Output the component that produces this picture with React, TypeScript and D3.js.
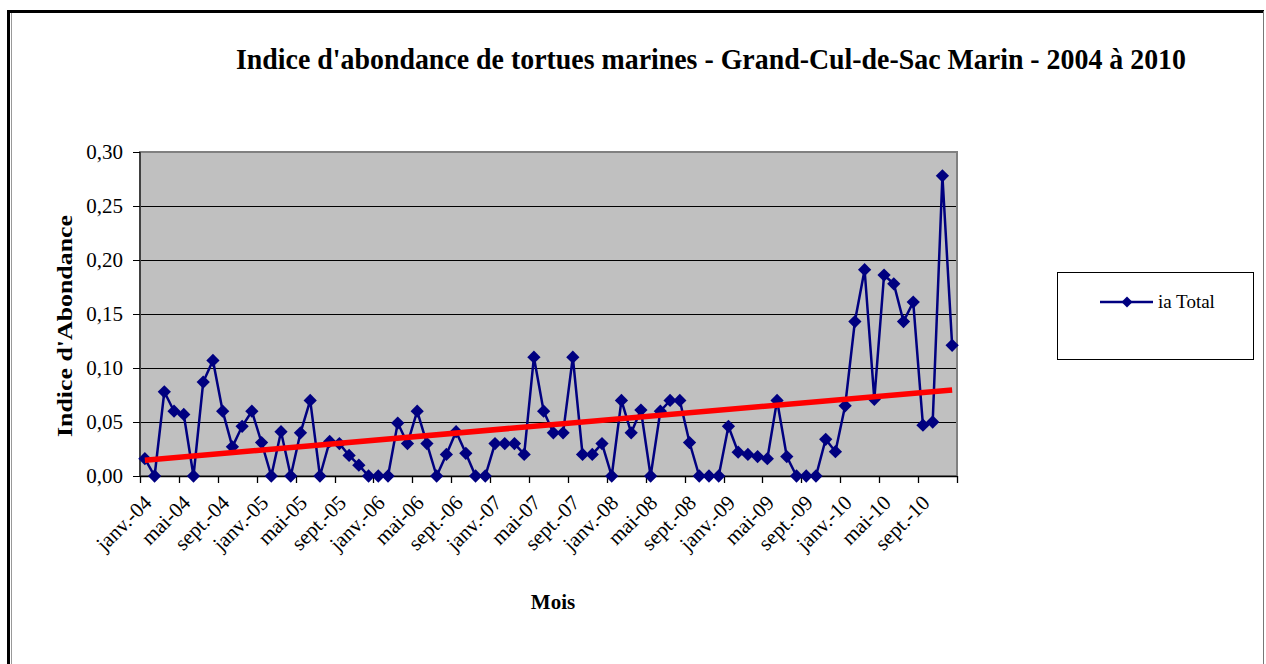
import React, { useEffect, useRef } from "react";
import * as d3 from "d3";

const years = ["04", "05", "06", "07", "08", "09", "10"];
const monthNames = ["janv.", "févr.", "mars", "avr.", "mai", "juin", "juil.", "août", "sept.", "oct.", "nov.", "déc."];

// ia Total, one array per year (janv. -> déc.)
const ia2004 = [0.016, 0, 0.078, 0.06, 0.057, 0, 0.087, 0.107, 0.06, 0.027, 0.046, 0.06];
const ia2005 = [0.031, 0, 0.041, 0, 0.04, 0.07, 0, 0.032, 0.03, 0.019, 0.01, 0];
const ia2006 = [0, 0, 0.049, 0.03, 0.06, 0.03, 0, 0.02, 0.041, 0.021, 0, 0];
const ia2007 = [0.03, 0.03, 0.03, 0.02, 0.11, 0.06, 0.04, 0.04, 0.11, 0.02, 0.02, 0.03];
const ia2008 = [0, 0.07, 0.04, 0.061, 0, 0.06, 0.07, 0.07, 0.031, 0, 0, 0];
const ia2009 = [0.046, 0.022, 0.02, 0.018, 0.016, 0.07, 0.018, 0, 0, 0, 0.034, 0.0225];
const ia2010 = [0.065, 0.143, 0.191, 0.071, 0.186, 0.178, 0.143, 0.161, 0.047, 0.05, 0.278, 0.121];

const yTicks = [0, 0.05, 0.1, 0.15, 0.2, 0.25, 0.3];

const title = "Indice d'abondance de tortues marines - Grand-Cul-de-Sac Marin - 2004 à 2010";
const serif = "'Liberation Serif', 'Times New Roman', serif";

const Chart = () => {
  const svgRef = useRef<SVGSVGElement | null>(null);

  useEffect(() => {
    const svg = d3.select(svgRef.current);
    svg.selectAll("*").remove();

    const values = [...ia2004, ...ia2005, ...ia2006, ...ia2007, ...ia2008, ...ia2009, ...ia2010];
    const categories = years.flatMap((y) => monthNames.map((m) => `${m}-${y}`));
    const data = categories.map((c, i) => ({ cat: c, i, v: values[i] }));

    const plot = { left: 140, right: 957, top: 152, bottom: 476 };

    const x = d3.scaleBand<string>().domain(categories).range([plot.left, plot.right]).padding(0);
    const cx = (c: string) => (x(c) ?? 0) + x.bandwidth() / 2;
    const y = d3.scaleLinear().domain([0, 0.3]).range([plot.bottom, plot.top]);

    // outer frame
    svg.append("line").attr("x1", 8.5).attr("x2", 8.5).attr("y1", 10).attr("y2", 664)
      .attr("stroke", "#000").attr("stroke-width", 3);
    svg.append("line").attr("x1", 11.5).attr("x2", 11.5).attr("y1", 13).attr("y2", 664)
      .attr("stroke", "#999").attr("stroke-width", 1);
    svg.append("line").attr("x1", 7).attr("x2", 1264).attr("y1", 11.5).attr("y2", 11.5)
      .attr("stroke", "#000").attr("stroke-width", 3);
    svg.append("line").attr("x1", 1263.5).attr("x2", 1263.5).attr("y1", 11).attr("y2", 664)
      .attr("stroke", "#777").attr("stroke-width", 1);

    // title
    svg.append("text")
      .attr("x", 236).attr("y", 69)
      .attr("textLength", 950).attr("lengthAdjust", "spacingAndGlyphs")
      .style("font-family", serif).style("font-size", "29px").style("font-weight", "bold")
      .text(title);

    // plot background
    svg.append("rect")
      .attr("x", plot.left).attr("y", plot.top)
      .attr("width", plot.right - plot.left).attr("height", plot.bottom - plot.top)
      .attr("fill", "#c0c0c0");

    // gridlines
    svg.selectAll("line.grid")
      .data(yTicks.slice(1, -1))
      .enter()
      .append("line")
      .attr("class", "grid")
      .attr("x1", plot.left).attr("x2", plot.right)
      .attr("y1", (d) => Math.round(y(d)) + 0.5).attr("y2", (d) => Math.round(y(d)) + 0.5)
      .attr("stroke", "#000").attr("stroke-width", 1.2);

    // plot border
    svg.append("rect")
      .attr("x", plot.left).attr("y", plot.top)
      .attr("width", plot.right - plot.left).attr("height", plot.bottom - plot.top)
      .attr("fill", "none").attr("stroke", "#808080").attr("stroke-width", 2);

    // y axis
    svg.append("line").attr("x1", plot.left).attr("x2", plot.left).attr("y1", plot.top).attr("y2", plot.bottom)
      .attr("stroke", "#000").attr("stroke-width", 1);
    svg.selectAll("line.ytick")
      .data(yTicks)
      .enter()
      .append("line")
      .attr("class", "ytick")
      .attr("x1", plot.left - 7).attr("x2", plot.left)
      .attr("y1", (d) => Math.round(y(d)) + 0.5).attr("y2", (d) => Math.round(y(d)) + 0.5)
      .attr("stroke", "#000");
    svg.selectAll("text.ylab")
      .data(yTicks)
      .enter()
      .append("text")
      .attr("class", "ylab")
      .attr("x", plot.left - 17).attr("y", (d) => y(d) + 7)
      .style("text-anchor", "end")
      .style("font-family", serif).style("font-size", "21px")
      .text((d) => d3.format(".2f")(d).replace(".", ","));

    // x axis
    svg.append("line").attr("x1", plot.left).attr("x2", plot.right).attr("y1", plot.bottom + 0.5).attr("y2", plot.bottom + 0.5)
      .attr("stroke", "#000").attr("stroke-width", 1.5);
    const tickCats = categories.filter((_, i) => i % 4 === 0);
    svg.selectAll("line.xtick")
      .data([...tickCats.map((c) => x(c) ?? 0), plot.right])
      .enter()
      .append("line")
      .attr("class", "xtick")
      .attr("x1", (d) => Math.round(d) + 0.5).attr("x2", (d) => Math.round(d) + 0.5)
      .attr("y1", plot.bottom).attr("y2", plot.bottom + 7)
      .attr("stroke", "#000").attr("stroke-width", 1.3);
    svg.selectAll("text.xlab")
      .data(tickCats)
      .enter()
      .append("text")
      .attr("class", "xlab")
      .attr("transform", (d) => `translate(${cx(d) + 8}, ${plot.bottom + 28}) rotate(-45)`)
      .style("text-anchor", "end")
      .style("font-family", serif).style("font-size", "21px")
      .text((d) => d);

    // axis titles
    svg.append("text")
      .attr("x", 553).attr("y", 609)
      .style("text-anchor", "middle")
      .style("font-family", serif).style("font-size", "21px").style("font-weight", "bold")
      .text("Mois");
    svg.append("text")
      .attr("transform", "translate(72, 326) rotate(-90)")
      .attr("x", -111)
      .attr("textLength", 222).attr("lengthAdjust", "spacingAndGlyphs")
      .style("font-family", serif).style("font-size", "22px").style("font-weight", "bold")
      .text("Indice d'Abondance");

    // series line
    const line = d3.line<{ cat: string; v: number }>()
      .x((d) => cx(d.cat))
      .y((d) => y(d.v));
    svg.append("path")
      .datum(data)
      .attr("d", line)
      .attr("fill", "none")
      .attr("stroke", "#000080")
      .attr("stroke-width", 2.5);

    const diamond = d3.symbol().type(d3.symbolSquare).size(88);
    svg.selectAll("path.marker")
      .data(data)
      .enter()
      .append("path")
      .attr("class", "marker")
      .attr("d", diamond)
      .attr("transform", (d) => `translate(${cx(d.cat)}, ${y(d.v)}) rotate(45)`)
      .attr("fill", "#000080");

    // linear trend (least squares)
    const n = data.length;
    const mx = d3.mean(data, (d) => d.i) ?? 0;
    const my = d3.mean(data, (d) => d.v) ?? 0;
    const slope = d3.sum(data, (d) => (d.i - mx) * (d.v - my)) / d3.sum(data, (d) => (d.i - mx) ** 2);
    const intercept = my - slope * mx;
    const first = data[0];
    const last = data[n - 1];
    svg.append("line")
      .attr("x1", cx(first.cat)).attr("y1", y(intercept + slope * first.i))
      .attr("x2", cx(last.cat)).attr("y2", y(intercept + slope * last.i))
      .attr("stroke", "#ff0000")
      .attr("stroke-width", 5.5);

    // legend
    const lg = { x: 1057, y: 272, w: 196, h: 87 };
    svg.append("rect")
      .attr("x", lg.x + 0.5).attr("y", lg.y + 0.5).attr("width", lg.w).attr("height", lg.h)
      .attr("fill", "#fff").attr("stroke", "#000").attr("stroke-width", 1);
    svg.append("line")
      .attr("x1", 1100).attr("x2", 1153).attr("y1", 302).attr("y2", 302)
      .attr("stroke", "#000080").attr("stroke-width", 2.5);
    svg.append("path")
      .attr("d", d3.symbol().type(d3.symbolSquare).size(60)())
      .attr("transform", "translate(1127, 302) rotate(45)")
      .attr("fill", "#000080");
    svg.append("text")
      .attr("x", 1158).attr("y", 308)
      .style("font-family", serif).style("font-size", "19px")
      .text("ia Total");
  }, []);

  return <svg ref={svgRef} width={1266} height={664} style={{ position: "absolute", left: 0, top: 0, background: "#fff" }}></svg>;
};

export default function App() {
  return <Chart />;
}
